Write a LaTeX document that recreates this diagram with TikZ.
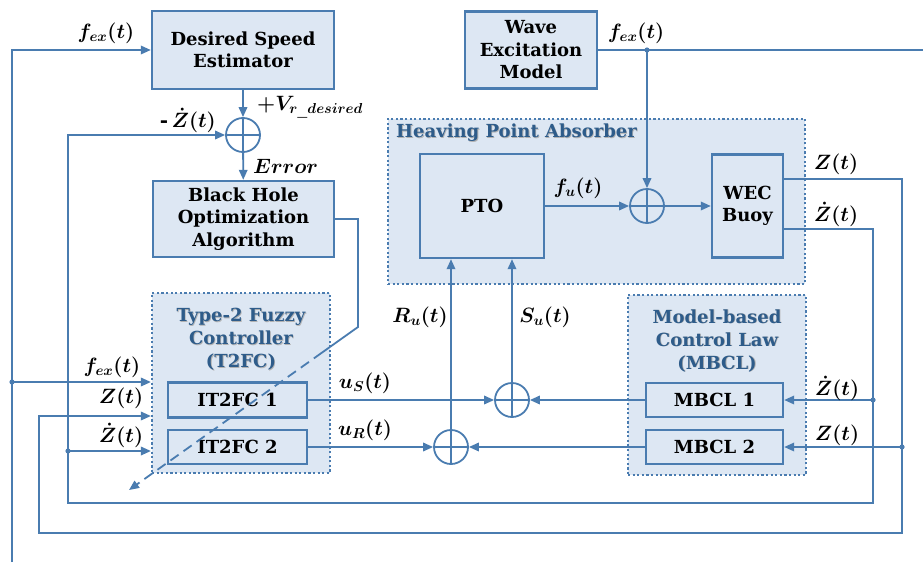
\documentclass[tikz,border=0pt]{standalone}
\usepackage[no-math]{fontspec}
\setmainfont{DejaVu Serif}
\usepackage{bm}
\usetikzlibrary{arrows.meta}

\definecolor{wireblue}{HTML}{4A7CB0}
\definecolor{paleblue}{HTML}{DDE7F3}
\definecolor{titleblue}{HTML}{2E5C8A}

% larger sub- and superscripts for the signal names
\DeclareMathSizes{20}{20}{15}{12}

% text with a soft grey drop shadow
\newcommand\grptext[1]{\makebox[0pt][l]{\kern0.8pt\raisebox{-0.8pt}{\color{black!30}#1}}#1}

\begin{document}
\begin{tikzpicture}[
    x=1pt, y=-1pt,
    block/.style={
        rectangle,
        draw=wireblue,
        fill=paleblue,
        line width=2.4pt,
        align=center,
        inner sep=0pt,
        font=\fontsize{18}{22.5}\selectfont\bfseries
    },
    group/.style={
        rectangle,
        draw=wireblue,
        fill=paleblue,
        line width=2.2pt,
        dash pattern=on 2.2pt off 2.4pt,
        inner sep=0pt
    },
    grouptitle/.style={
        text=titleblue,
        align=center,
        inner sep=0pt,
        font=\fontsize{18}{23}\selectfont\bfseries
    },
    sum/.style={
        circle,
        draw=wireblue,
        line width=1.8pt,
        minimum size=34pt,
        inner sep=0pt,
        path picture={
            \draw[wireblue, line width=1.8pt]
                (path picture bounding box.north) -- (path picture bounding box.south)
                (path picture bounding box.west) -- (path picture bounding box.east);
        }
    },
    wire/.style={
        draw=wireblue,
        line width=1.8pt
    },
    signal/.style={
        wire,
        -{Triangle[length=10pt,width=8.5pt]}
    },
    lbl/.style={
        inner sep=0pt,
        font=\fontsize{20}{22}\selectfont
    }
]

\useasboundingbox (0,0) rectangle (923,562);

%% --- Groups ---
\node[group, minimum width=417pt, minimum height=165pt] (hpa)  at (596.5,201.5) {};
\node[group, minimum width=178pt, minimum height=180pt] (t2fc) at (241,383) {};
\node[group, minimum width=178pt, minimum height=180pt] (mbcl) at (717,385) {};

\node[grouptitle, anchor=west] (hpatitle)  at (396,133) {\grptext{Heaving Point Absorber}};
\node[grouptitle] (t2fctitle) at (241,340) {\grptext{Type-2 Fuzzy}\\\grptext{Controller}\\\grptext{(T2FC)}};
\node[grouptitle] (mbcltitle) at (717,341) {\grptext{Model-based}\\\grptext{Control Law}\\\grptext{(MBCL)}};

%% --- Blocks ---
\node[block, minimum width=182pt, minimum height=78pt]  (dse)   at (243,50)    {Desired Speed\\Estimator};
\node[block, minimum width=181pt, minimum height=76pt]  (bho)   at (243.5,219) {Black Hole\\Optimization\\Algorithm};
\node[block, minimum width=132pt, minimum height=77pt]  (wem)   at (531,50)    {Wave\\Excitation\\Model};
\node[block, minimum width=124pt, minimum height=104pt] (pto)   at (482,206)   {PTO};
\node[block, minimum width=71pt,  minimum height=103pt] (wec)   at (747.5,206) {WEC\\Buoy};
\node[block, minimum width=139pt, minimum height=35pt]  (it2fc1) at (237.5,400) {IT2FC 1};
\node[block, minimum width=139pt, minimum height=34pt]  (it2fc2) at (237.5,447) {IT2FC 2};
\node[block, minimum width=137pt, minimum height=34pt]  (mbcl1) at (714.5,400) {MBCL 1};
\node[block, minimum width=137pt, minimum height=34pt]  (mbcl2) at (714.5,447) {MBCL 2};

%% --- Summing junctions ---
\node[sum] (sum1) at (243,135) {};
\node[sum] (sum2) at (647,206) {};
\node[sum] (sumS) at (512,400) {};
\node[sum] (sumR) at (451,447) {};

%% --- Corner points ---
\coordinate (fexL) at (12,562);
\coordinate (fexR) at (923,50);
\coordinate (fexJ) at (647,50);
\coordinate (fJ)   at (12,382);
\coordinate (zA)   at (902,179);
\coordinate (zB)   at (902,533);
\coordinate (zC)   at (39,533);
\coordinate (zD)   at (39,416);
\coordinate (zJ)   at (902,447);
\coordinate (dA)   at (873,229);
\coordinate (dB)   at (873,503);
\coordinate (dC)   at (68,503);
\coordinate (dJ1)  at (873,400);
\coordinate (dJ2)  at (68,451);
\coordinate (bA)   at (358,219);
\coordinate (bB)   at (358,327);
\coordinate (bC)   at (322,352.6);
\coordinate (bD)   at (129,490);

%% --- Excitation force ---
\draw[signal] (fexL) |- (dse.west);
\draw[signal] (fJ) -- (t2fc.west |- fJ);
\draw[wire]   (wem.east) -- (fexR);
\draw[signal] (fexJ) -- (sum2.north);

%% --- Speed error path ---
\draw[signal] (dse) -- (sum1);
\draw[signal] (sum1) -- (bho);
\draw[wire]   (bho.east) -- (bA) -- (bB) -- (bC);
\draw[signal, dash pattern=on 10pt off 6pt] (bC) -- (bD);

%% --- Plant ---
\draw[signal] (pto) -- (sum2);
\draw[signal] (sum2) -- (wec);

%% --- Feedback of Z(t) ---
\draw[signal] (wec.east |- zA) -- (zA) -- (zB) -- (zC) -- (zD) -- (t2fc.west |- zD);
\draw[signal] (zJ) -- (mbcl2.east);

%% --- Feedback of dZ(t) ---
\draw[signal] (wec.east |- dA) -- (dA) -- (dB) -- (dC) |- (sum1.west);
\draw[signal] (dJ1) -- (mbcl1.east);
\draw[signal] (dJ2) -- (t2fc.west |- dJ2);

%% --- Controller outputs ---
\draw[signal] (it2fc1.east) -- (sumS.west);
\draw[signal] (mbcl1.west) -- (sumS.east);
\draw[signal] (it2fc2.east) -- (sumR.west);
\draw[signal] (mbcl2.west) -- (sumR.east);
\draw[signal] (sumS.north) -- (pto.south -| sumS.north);
\draw[signal] (sumR.north) -- (pto.south -| sumR.north);

%% --- Branch points ---
\foreach \p in {fexJ, fJ, zJ, dJ1, dJ2}
    \fill[wireblue] (\p) circle (2.6pt);

%% --- Signal labels ---
\node[lbl] (lfex1) at (106,33)  {$\bm{f_{ex}(t)}$};
\node[lbl] (lfex2) at (636,33)  {$\bm{f_{ex}(t)}$};
\node[lbl, anchor=east] (lzd1) at (216,120) {\textbf{-}\,$\bm{\dot{Z}(t)}$};
\node[lbl, anchor=west] (lvr) at (257,107) {$\bm{+V_{r\_desired}}$};
\node[lbl, anchor=west] (lerr) at (253,166) {$\bm{Error}$};
\node[lbl] (lfu)   at (578,188) {$\bm{f_{u}(t)}$};
\node[lbl] (lz1)   at (836,164) {$\bm{Z(t)}$};
\node[lbl] (lzd2)  at (836,214) {$\bm{\dot{Z}(t)}$};
\node[lbl] (lru)   at (420,317) {$\bm{R_{u}(t)}$};
\node[lbl] (lsu)   at (545,317) {$\bm{S_{u}(t)}$};
\node[lbl] (lus)   at (365,383) {$\bm{u_{S}(t)}$};
\node[lbl] (lur)   at (365,430) {$\bm{u_{R}(t)}$};
\node[lbl] (lzd3)  at (837,388) {$\bm{\dot{Z}(t)}$};
\node[lbl] (lz2)   at (837,435) {$\bm{Z(t)}$};
\node[lbl] (lfex3) at (112,367) {$\bm{f_{ex}(t)}$};
\node[lbl] (lz3)   at (121,398) {$\bm{Z(t)}$};
\node[lbl] (lzd4)  at (121,435) {$\bm{\dot{Z}(t)}$};

\end{tikzpicture}
\end{document}
